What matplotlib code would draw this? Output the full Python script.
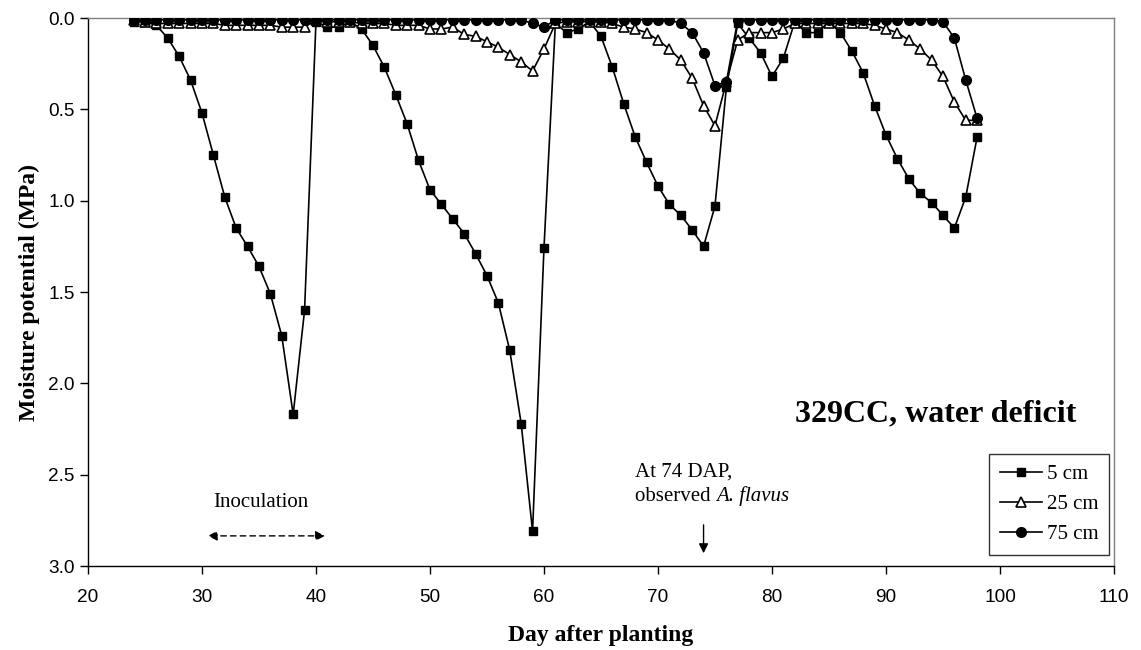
import matplotlib
matplotlib.use("Agg")
import matplotlib.pyplot as plt

SERIF = "Liberation Serif"
SANS = "Liberation Sans"

days = list(range(24, 99))

cm5 = [0.02, 0.02, 0.04, 0.11, 0.21, 0.34, 0.52, 0.75, 0.98, 1.15,
       1.25, 1.36, 1.51, 1.74, 2.17, 1.60, 0.02, 0.05, 0.05, 0.02,
       0.06, 0.15, 0.27, 0.42, 0.58, 0.78, 0.94, 1.02, 1.10, 1.18,
       1.29, 1.41, 1.56, 1.82, 2.22, 2.81, 1.26, 0.03, 0.08, 0.06,
       0.02, 0.10, 0.27, 0.47, 0.65, 0.79, 0.92, 1.02, 1.08, 1.16,
       1.25, 1.03, 0.38, 0.03, 0.11, 0.19, 0.32, 0.22, 0.02, 0.08,
       0.08, 0.02, 0.08, 0.18, 0.30, 0.48, 0.64, 0.77, 0.88, 0.96,
       1.01, 1.08, 1.15, 0.98, 0.65]

cm25 = [0.01, 0.02, 0.03, 0.03, 0.03, 0.03, 0.03, 0.03, 0.04, 0.04,
        0.04, 0.04, 0.04, 0.05, 0.05, 0.05, 0.01, 0.02, 0.02, 0.02,
        0.03, 0.03, 0.03, 0.04, 0.04, 0.04, 0.06, 0.06, 0.05, 0.09,
        0.10, 0.13, 0.16, 0.20, 0.24, 0.29, 0.17, 0.03, 0.02, 0.02,
        0.02, 0.02, 0.03, 0.05, 0.06, 0.08, 0.12, 0.17, 0.23, 0.33,
        0.48, 0.59, 0.35, 0.12, 0.08, 0.08, 0.08, 0.06, 0.03, 0.03,
        0.03, 0.03, 0.03, 0.03, 0.03, 0.04, 0.06, 0.08, 0.12, 0.17,
        0.23, 0.32, 0.46, 0.56, 0.56]

cm75 = [0.01] * 35 + [0.03, 0.05] + [0.01] * 11 + [0.03, 0.08, 0.19, 0.37, 0.35] \
    + [0.01] * 18 + [0.02, 0.11, 0.34, 0.55]

yticks = [0.0, 0.5, 1.0, 1.5, 2.0, 2.5, 3.0]

fig = plt.figure(figsize=(11.41, 6.5), dpi=100)
ax = fig.add_axes([0.0771, 0.1292, 0.8992, 0.8431])

ax.plot(days, cm5, color="black", lw=1.2, marker="s", ms=6.2, mfc="black", mec="black",
        label="5 cm", zorder=3)
ax.plot(days, cm25, color="black", lw=1.2, marker="^", ms=7, mfc="white", mec="black",
        mew=1.2, label="25 cm", zorder=4)
ax.plot(days, cm75, color="black", lw=1.2, marker="o", ms=7, mfc="black", mec="black",
        label="75 cm", zorder=5)

ax.set_xlim(20, 110)
ax.set_ylim(3.0, 0.0)
ax.set_xticks(range(20, 111, 10))
ax.set_yticks(yticks)
ax.set_yticklabels([f"{v:.1f}" for v in yticks])
ax.tick_params(direction="out", length=5.5, width=1, labelsize=13.7, color="black")
for lab in ax.get_xticklabels() + ax.get_yticklabels():
    lab.set_fontfamily(SANS)
ax.tick_params(axis="x", pad=11)
ax.tick_params(axis="y", pad=4)

for s in ("top", "right"):
    ax.spines[s].set_color("#808080")
    ax.spines[s].set_linewidth(1)
for s in ("left", "bottom"):
    ax.spines[s].set_color("black")
    ax.spines[s].set_linewidth(1)

ax.set_xlabel("Day after planting", fontfamily=SERIF, fontweight="bold", fontsize=17, labelpad=14)
ax.set_ylabel("Moisture potential (MPa)", fontfamily=SERIF, fontweight="bold", fontsize=17,
              labelpad=6)

ax.text(82.0, 2.17, "329CC, water deficit", fontfamily=SERIF, fontweight="bold", fontsize=23,
        ha="left", va="center")

# inoculation window
ax.text(35.2, 2.655, "Inoculation", fontfamily=SERIF, fontsize=15, ha="center", va="center")
ax.annotate("", xy=(30.5, 2.835), xytext=(40.8, 2.835),
            arrowprops=dict(arrowstyle="<|-|>", color="black", lw=1, ls=(0, (4, 3)),
                            mutation_scale=14, shrinkA=0, shrinkB=0))

# fungus observation note
ax.text(68.0, 2.485, "At 74 DAP,", fontfamily=SERIF, fontsize=15, ha="left", va="center")
obs = ax.text(68.0, 2.62, "observed ", fontfamily=SERIF, fontsize=15, ha="left", va="center")
ax.annotate("A. flavus", xy=(1, 0), xycoords=obs, ha="left", va="bottom",
            fontfamily=SERIF, fontsize=15, fontstyle="italic")
ax.annotate("", xy=(74, 2.93), xytext=(74, 2.775),
            arrowprops=dict(arrowstyle="-|>", color="black", lw=1, mutation_scale=14,
                            shrinkA=0, shrinkB=0))

leg = ax.legend(loc="upper right", bbox_to_anchor=(0.995, 0.204), borderaxespad=0,
                prop={"family": SERIF, "size": 15}, frameon=True, fancybox=False,
                handlelength=2.0, labelspacing=0.5, handletextpad=0.25, borderpad=0.5)
leg.get_frame().set_edgecolor("black")
leg.get_frame().set_linewidth(1)

fig.savefig("out.png", dpi=100)
